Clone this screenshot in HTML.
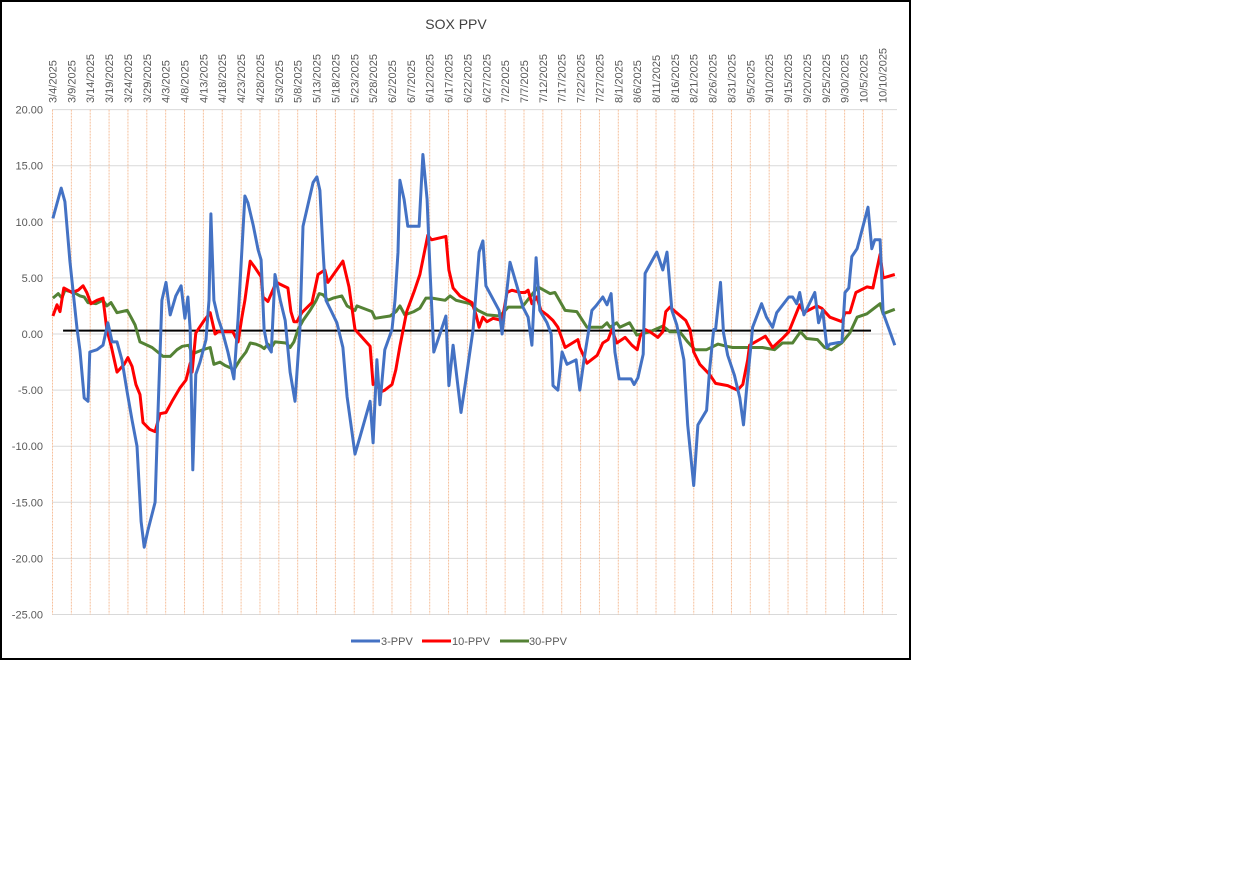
<!DOCTYPE html>
<html><head><meta charset="utf-8"><style>
body{margin:0;background:#fff;}
svg{display:block;font-family:"Liberation Sans",sans-serif;}
</style></head><body>
<svg id="chart" width="1238" height="871">
<rect x="1" y="1" width="909" height="658" fill="#fff" stroke="#000" stroke-width="2"/>
<text x="456" y="29" text-anchor="middle" font-size="14" fill="#404040">SOX PPV</text>
<g id="grid"></g><g id="ylab"></g><g id="xlab"></g><g id="series"></g>
<g>
<g><line x1="351" y1="641" x2="380" y2="641" stroke="#4472c4" stroke-width="3"/><text x="381" y="645" font-size="11" fill="#595959">3-PPV</text></g>
<g><line x1="422" y1="641" x2="451" y2="641" stroke="#ff0000" stroke-width="3"/><text x="452" y="645" font-size="11" fill="#595959">10-PPV</text></g>
<g><line x1="500" y1="641" x2="529" y2="641" stroke="#548235" stroke-width="3"/><text x="529" y="645" font-size="11" fill="#595959">30-PPV</text></g>
</g>
</svg>
<script>
const yTicks=[20,15,10,5,0,-5,-10,-15,-20,-25];
const xTickDays=[0,5,10,15,20,25,30,35,40,45,50,55,60,65,70,75,80,85,90,95,100,105,110,115,120,125,130,135,140,145,150,155,160,165,170,175,180,185,190,195,200,205,210,215,220];
const baseLevel=0.3, baseStart=2.8, baseEnd=217;
const blueDays=[0.1,2.3,3.3,4.6,6.5,7.3,8.4,9.4,9.9,11.8,13.4,14.7,15.8,17.1,18.4,19.8,21.1,22.4,23.5,24.3,25.3,27.2,27.9,29.0,30.1,31.2,32.7,34.1,35.1,35.9,36.5,37.2,38.0,39.1,40.7,41.5,42.0,42.8,43.9,44.9,46.5,48.1,49.2,50.2,51.0,51.8,53.2,54.5,55.3,56.1,56.9,58.0,59.0,60.4,61.7,63.0,64.3,65.6,66.4,67.7,69.1,70.1,70.9,71.7,72.5,73.8,75.4,77.0,78.1,80.2,81.5,84.2,85.0,86.0,86.8,88.1,90.0,90.8,91.6,92.1,93.2,94.2,97.2,98.2,99.3,100.1,101.1,102.2,104.3,105.1,106.2,108.3,109.4,111.5,113.1,114.1,114.9,118.4,119.2,121.3,123.2,124.7,126.1,127.1,128.2,129.2,131.1,132.2,132.7,134.0,135.1,136.4,138.8,139.8,140.9,143.0,144.1,145.9,147.0,148.1,149.1,150.2,153.4,154.2,155.2,156.6,157.1,160.2,161.8,162.9,164.2,165.5,167.4,168.4,170.0,171.1,173.4,174.2,175.3,175.8,177.1,177.9,179.0,180.8,182.2,183.2,184.0,185.3,185.6,188.0,189.3,190.9,192.0,195.2,196.2,197.3,198.1,199.2,202.1,203.1,204.2,205.3,206.1,209.3,210.1,211.1,211.9,213.3,216.2,217.2,218.0,219.4,220.2,223.3];
const blueVals=[10.3,13,11.8,6.5,0.5,-1.5,-5.7,-6,-1.6,-1.4,-1,1,-0.7,-0.7,-2.3,-5.2,-7.7,-10,-16.7,-19,-17.5,-15,-7.7,3,4.6,1.7,3.4,4.3,1.4,3.3,0.4,-12.1,-3.6,-2.5,-0.5,3,10.7,3,1.4,0.4,-1.6,-4,1.4,7.5,12.3,11.7,9.7,7.5,6.6,0.4,-1,-1.6,5.3,3,1.2,-3.4,-6,0.4,9.6,11.5,13.5,14,12.8,7.5,3,2.1,1,-1.2,-5.6,-10.7,-9.2,-6,-9.7,-2.3,-6.3,-1.4,0.4,3,7.3,13.7,12,9.6,9.6,16,12,5.5,-1.6,-0.5,1.6,-4.6,-1,-7,-4.5,0.4,7.3,8.3,4.3,2.1,0,6.4,4.2,2.4,1.5,-1,6.8,2.1,1,0,-4.6,-5,-1.6,-2.7,-2.3,-5,-2.3,2.1,2.5,3.3,2.6,3.6,-1.6,-4,-4,-4.5,-3.9,-1.8,5.4,7.3,5.7,7.3,2.1,0.8,-2.3,-8.1,-13.5,-8.1,-6.8,-3.2,0.4,0.4,4.6,0.1,-1.9,-3.7,-5.7,-8.1,-5,-0.5,0.6,2.7,1.5,0.6,1.9,3.3,3.3,2.7,3.7,1.7,3.7,1,2.1,-1.2,-0.9,-0.7,3.7,4.1,6.9,7.6,11.3,7.6,8.4,8.4,1.9,-1];
const redDays=[0.1,1.2,2.0,3.0,5.2,6.8,8.1,9.1,10.2,11.8,13.4,14.4,15.5,17.1,19.0,20.0,21.1,22.1,23.2,24.0,25.8,27.2,28.5,30.1,31.7,33.8,35.4,36.5,37.0,38.0,40.2,41.8,43.1,43.9,47.8,49.2,50.2,51.0,52.4,53.7,55.3,55.8,57.1,59.3,62.4,63.2,64.0,64.8,66.1,68.8,70.4,72.2,73.0,77.0,78.6,80.2,84.2,85.0,86.0,86.8,88.1,90.0,91.0,92.1,93.9,96.0,97.4,99.5,100.5,104.3,105.1,106.2,108.0,111.2,112.3,113.1,114.1,115.2,116.8,119.2,120.5,121.8,124.0,125.3,126.1,127.1,128.4,129.5,131.1,132.7,134.0,135.9,139.3,139.8,141.7,144.4,145.9,147.3,148.3,149.6,151.8,153.6,155.0,155.8,157.1,158.4,160.5,161.8,162.6,163.7,165.8,167.9,169.0,170.0,171.6,174.2,175.8,179.0,181.6,183.0,184.3,184.8,189.0,190.9,193.5,195.2,198.1,199.2,202.6,203.9,206.1,209.3,210.1,211.4,213.0,215.9,217.5,219.4,220.2,223.3];
const redVals=[1.6,2.6,2,4.1,3.7,3.9,4.3,3.7,2.7,3,3.2,0.4,-1,-3.4,-2.7,-2.1,-2.9,-4.5,-5.4,-7.9,-8.5,-8.7,-7.1,-7,-6,-4.8,-4.1,-2.6,-3.4,0.1,1.2,1.9,0,0.2,0.2,-0.7,1.5,3,6.5,5.9,5.1,3.3,2.9,4.6,4.1,2,1.1,1.1,1.9,2.8,5.3,5.7,4.6,6.5,4.2,0.4,-1.1,-4.5,-4.3,-5.2,-5,-4.5,-3.2,-1.1,2,3.9,5.3,8.8,8.4,8.7,5.7,4.1,3.4,2.8,1.7,0.6,1.5,1.1,1.4,1.2,3.7,3.9,3.7,3.7,3.9,2.7,3.3,2.1,1.7,1.2,0.6,-1.2,-0.5,-1.2,-2.6,-1.9,-0.8,-0.5,0.4,-0.8,-0.3,-1,-1.4,-0.2,0.4,0.2,-0.3,0.2,2,2.4,1.8,1.2,0.4,-1.6,-2.7,-3.6,-4.4,-4.6,-5,-4.5,-2.3,-1,-0.2,-1.2,-0.4,0.2,2.6,1.9,2.5,2.3,1.5,1.1,1.9,1.9,3.7,4.2,4.1,7.1,5,5.3];
const greenDays=[0.1,1.5,2.5,3.3,5.7,7.3,8.4,9.4,11.5,13.4,14.4,15.5,17.1,19.8,20.8,21.9,23.2,24.5,26.4,27.9,29.3,31.2,33.0,34.4,36.2,37.0,38.3,39.9,41.8,42.8,44.4,45.7,47.1,48.1,49.7,51.3,52.4,53.9,55.3,56.1,57.1,58.0,59.0,61.9,63.0,64.0,65.1,66.4,68.3,69.9,70.7,71.7,73.0,74.4,76.7,78.1,80.2,80.7,84.7,85.5,89.5,91.1,92.1,93.4,95.8,97.4,99.0,100.6,104.1,105.4,107.0,110.7,112.8,115.2,118.6,120.8,124.5,128.7,131.9,133.2,135.9,139.0,141.7,145.7,147.0,147.8,149.6,150.4,153.0,154.9,158.4,161.8,163.7,166.3,168.4,170.3,173.4,176.4,178.7,180.3,188.2,191.4,193.5,196.2,198.3,199.9,202.8,204.7,206.5,209.2,211.4,213.3,215.9,219.4,220.2,223.3];
const greenVals=[3.2,3.6,3.2,3.9,3.7,3.4,3.3,2.8,2.7,3,2.5,2.8,1.9,2.1,1.5,0.8,-0.7,-0.9,-1.2,-1.6,-2,-2,-1.4,-1.1,-1,-1.8,-1.6,-1.4,-1.2,-2.7,-2.5,-2.8,-3,-3.2,-2.3,-1.6,-0.8,-0.9,-1.1,-1.3,-0.9,-1.2,-0.7,-0.8,-1.2,-0.7,0.4,1.2,2.1,3,3.6,3.5,3,3.2,3.4,2.5,2.1,2.5,2,1.4,1.6,2,2.5,1.7,2,2.3,3.2,3.2,3,3.4,3,2.7,2.1,1.7,1.6,2.4,2.4,4.2,3.6,3.7,2.1,2,0.6,0.6,1,0.6,1,0.6,1,-0.1,0.2,0.7,0.2,0.2,-0.7,-1.4,-1.4,-0.9,-1.1,-1.2,-1.2,-1.4,-0.8,-0.8,0.2,-0.4,-0.5,-1.2,-1.4,-0.8,0.1,1.5,1.8,2.7,1.8,2.2];

const NS='http://www.w3.org/2000/svg';
const X0=52.5, DAYPX=3.772, Y0=334, UNITPX=11.22, PL=52, PR=897;
function xS(d){return X0+d*DAYPX;}
function yS(v){return Y0-v*UNITPX;}
function mk(tag,attrs,parent){const e=document.createElementNS(NS,tag);for(const k in attrs)e.setAttribute(k,attrs[k]);parent.appendChild(e);return e;}
function dateLabel(d){const t=new Date(Date.UTC(2025,2,4+d));return (t.getUTCMonth()+1)+'/'+t.getUTCDate()+'/'+t.getUTCFullYear();}
const grid=document.getElementById('grid'), ylab=document.getElementById('ylab'), xlab=document.getElementById('xlab'), ser=document.getElementById('series');
yTicks.forEach(v=>{
  const l=mk('line',{x1:PL,x2:PR,y1:yS(v),y2:yS(v),stroke:'#d9d9d9','stroke-width':1},grid);
  
  
  const t=mk('text',{x:43,y:yS(v)+4,'text-anchor':'end','font-size':11,fill:'#595959'},ylab);
  t.textContent=v.toFixed(2);
  
  
});
xTickDays.forEach((d,i)=>{
  const x=xS(d);
  const l=mk('line',{x1:x,x2:x,y1:yS(20),y2:yS(-25),stroke:'#f6c09c','stroke-width':1,'stroke-dasharray':'2,1'},grid);
  
  
  const t=mk('text',{x:0,y:0,'text-anchor':'start','font-size':11,fill:'#595959',transform:'translate('+(x+4)+',103) rotate(-90)'},xlab);
  t.textContent=dateLabel(d);
  
  
});
const base=mk('line',{x1:xS(baseStart),x2:xS(baseEnd),y1:yS(baseLevel),y2:yS(baseLevel),stroke:'#000','stroke-width':2},ser);


function drawSeries(days,vals,color,name){
  const n=Math.min(days.length,vals.length);let p='';
  for(let i=0;i<n;i++)p+=(i?'L':'M')+xS(days[i]).toFixed(1)+','+yS(vals[i]).toFixed(1);
  const e=mk('path',{d:p,fill:'none',stroke:color,'stroke-width':3,'stroke-linejoin':'round'},ser);
  
  
}
drawSeries(greenDays,greenVals,'#548235','series-30-ppv');
drawSeries(redDays,redVals,'#ff0000','series-10-ppv');
drawSeries(blueDays,blueVals,'#4472c4','series-3-ppv');
</script>
</body></html>
